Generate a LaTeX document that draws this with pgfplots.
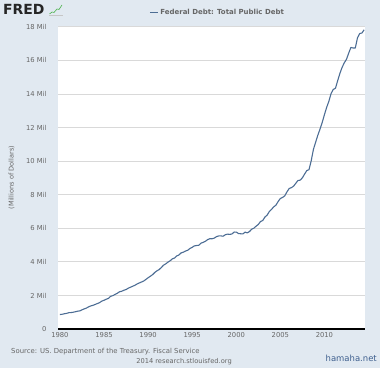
\documentclass[border=0pt]{standalone}
\usepackage{pgfplots}
\pgfplotsset{compat=1.18}
\usepackage{fontspec}
\setmainfont{DejaVu Sans}
\definecolor{bgc}{HTML}{E1E9F1}
\definecolor{linec}{HTML}{4C6D94}
\definecolor{txtc}{HTML}{666666}
\definecolor{gridc}{HTML}{D9D9D9}
\definecolor{hama}{HTML}{3E5F8E}
\begin{document}
\begin{tikzpicture}[x=1bp,y=1bp]
\fill[bgc] (0,0) rectangle (380,368);
\begin{axis}[
  at={(58bp,39bp)}, anchor=south west,
  scale only axis, width=307bp, height=303bp,
  xmin=1979.78, xmax=2014.6, ymin=0, ymax=18.05,
  axis background/.style={fill=white},
  axis line style={draw=none},
  xtick={1980,1985,...,2010},
  ytick={0,2,...,18},
  yticklabels={0,2 Mil,4 Mil,6 Mil,8 Mil,10 Mil,12 Mil,14 Mil,16 Mil,18 Mil},
  xticklabel style={/pgf/number format/1000 sep=},
  /pgf/number format/assume math mode=true,
  tick style={draw=none},
  ticklabel style={font=\fontsize{6.8}{7.5}\selectfont, text=txtc},
  xticklabel style={yshift=0bp},
  yticklabel style={xshift=-8bp},
  ymajorgrids, grid style={gridc, line width=0.8pt},
  ylabel={(Millions of Dollars)},
  ylabel style={font=\fontsize{6.6}{7.5}\selectfont, text=txtc, at={(-40bp,0.5)}},
  every axis plot/.append style={line width=1.1pt},
  legend style={at={(0.52,1.0)}, anchor=center, yshift=13bp, draw=none, fill=none,
    font=\bfseries\fontsize{7}{8}\selectfont, text=txtc},
  legend image code/.code={\draw[#1, line width=1pt] (0bp,0bp) -- (8bp,0bp);},
]
\addplot[linec, line join=round] coordinates {
(1980.00,0.863)(1980.25,0.878)(1980.50,0.908)(1980.75,0.930)
(1981.00,0.971)(1981.25,0.977)(1981.50,0.998)(1981.75,1.029)
(1982.00,1.061)(1982.25,1.080)(1982.50,1.142)(1982.75,1.197)
(1983.00,1.245)(1983.25,1.320)(1983.50,1.376)(1983.75,1.411)
(1984.00,1.464)(1984.25,1.517)(1984.50,1.572)(1984.75,1.663)
(1985.00,1.711)(1985.25,1.775)(1985.50,1.823)(1985.75,1.946)
(1986.00,1.987)(1986.25,2.059)(1986.50,2.125)(1986.75,2.215)
(1987.00,2.247)(1987.25,2.309)(1987.50,2.350)(1987.75,2.432)
(1988.00,2.488)(1988.25,2.548)(1988.50,2.602)(1988.75,2.684)
(1989.00,2.742)(1989.25,2.800)(1989.50,2.857)(1989.75,2.953)
(1990.00,3.052)(1990.25,3.143)(1990.50,3.233)(1990.75,3.365)
(1991.00,3.465)(1991.25,3.538)(1991.50,3.665)(1991.75,3.802)
(1992.00,3.881)(1992.25,3.984)(1992.50,4.065)(1992.75,4.177)
(1993.00,4.230)(1993.25,4.352)(1993.50,4.411)(1993.75,4.536)
(1994.00,4.575)(1994.25,4.645)(1994.50,4.693)(1994.75,4.800)
(1995.00,4.864)(1995.25,4.951)(1995.50,4.974)(1995.75,4.989)
(1996.00,5.117)(1996.25,5.161)(1996.50,5.225)(1996.75,5.323)
(1997.00,5.380)(1997.25,5.376)(1997.50,5.413)(1997.75,5.502)
(1998.00,5.542)(1998.25,5.548)(1998.50,5.526)(1998.75,5.614)
(1999.00,5.651)(1999.25,5.638)(1999.50,5.656)(1999.75,5.776)
(2000.00,5.773)(2000.25,5.686)(2000.50,5.674)(2000.75,5.662)
(2001.00,5.773)(2001.25,5.726)(2001.50,5.807)(2001.75,5.943)
(2002.00,6.006)(2002.25,6.126)(2002.50,6.228)(2002.75,6.406)
(2003.00,6.460)(2003.25,6.670)(2003.50,6.783)(2003.75,6.998)
(2004.00,7.131)(2004.25,7.274)(2004.50,7.379)(2004.75,7.596)
(2005.00,7.776)(2005.25,7.836)(2005.50,7.933)(2005.75,8.170)
(2006.00,8.371)(2006.25,8.420)(2006.50,8.507)(2006.75,8.680)
(2007.00,8.849)(2007.25,8.867)(2007.50,9.008)(2007.75,9.229)
(2008.00,9.437)(2008.25,9.492)(2008.50,10.025)(2008.75,10.700)
(2009.00,11.126)(2009.25,11.545)(2009.50,11.910)(2009.75,12.311)
(2010.00,12.773)(2010.25,13.201)(2010.50,13.562)(2010.75,14.025)
(2011.00,14.270)(2011.25,14.343)(2011.50,14.790)(2011.75,15.223)
(2012.00,15.582)(2012.25,15.856)(2012.50,16.066)(2012.75,16.433)
(2013.00,16.771)(2013.25,16.738)(2013.50,16.738)(2013.75,17.352)
(2014.00,17.601)(2014.25,17.632)(2014.50,17.824)
};
\addlegendentry{Federal Debt: Total Public Debt}
\draw[black, line width=1.4pt] (rel axis cs:0,0) -- (rel axis cs:1,0);
\end{axis}
\node[anchor=west, inner sep=0pt, font=\fontsize{14}{15}\selectfont\bfseries, text=black!85] at (3bp,358.5bp) {FRED};
\begin{scope}[shift={(49bp,353bp)}]
\draw[gray!45, line width=0.4pt] (0,0) -- (14,0);
\draw[green!40!gray, line width=0.6pt] (0.5,1) -- (3,3) -- (5,2.5) -- (8,6) -- (10,5.5) -- (13,10);
\end{scope}
\node[anchor=west, inner sep=0pt, font=\fontsize{6.9}{7.5}\selectfont, text=txtc] at (11bp,16bp) {Source: US. Department of the Treasury. Fiscal Service};
\node[anchor=center, inner sep=0pt, font=\fontsize{6.7}{7.5}\selectfont, text=txtc] at (184bp,6bp) {2014 research.stlouisfed.org};
\node[anchor=east, inner sep=0pt, font=\fontsize{8.5}{9}\selectfont, text=hama] at (377bp,10bp) {hamaha.net};
\end{tikzpicture}
\end{document}
